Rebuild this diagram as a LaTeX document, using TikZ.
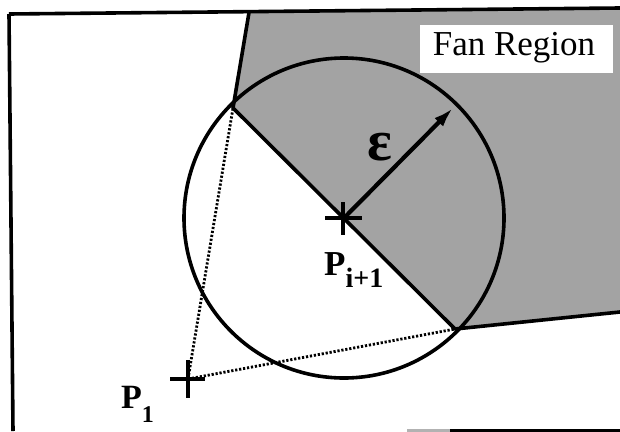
\documentclass[tikz,border=0pt]{standalone}
\usepackage{fontspec}
\setmainfont{Liberation Serif}
\usetikzlibrary{arrows.meta}
\begin{document}
\begin{tikzpicture}[x=1pt,y=-1pt,
  thickline/.style={line width=3.6pt, line join=round},
  dotline/.style={line width=2.8pt, dash pattern=on 2.2pt off 1.8pt},
  crossline/.style={line width=4pt},
  fanfill/.style={fill=black!36},
  labelbox/.style={fill=white, draw=none, minimum width=193pt, minimum height=48pt, inner sep=0pt},
  bigtext/.style={font=\fontsize{35}{35}\selectfont, inner sep=0pt}]
\useasboundingbox (0,0) rectangle (620,431);
% points
\coordinate (TL) at (9,14);
\coordinate (TR) at (620,8);
\coordinate (BL) at (13,431);
\coordinate (F1) at (249,12.5);
\coordinate (A) at (233,108);
\coordinate (B) at (455,329);
\coordinate (F4) at (620,312);
\coordinate (C) at (344,218);
\coordinate (E) at (453,108);
\coordinate (P1) at (188,379);
% fan region
\fill[fanfill] (F1) -- (A) -- (B) -- (F4) -- (TR) -- cycle;
\node[labelbox] (fanbox) at (516.5,49) {};
\node[bigtext, anchor=base] (fantext) at (514,55.5) {Fan Region};
% frame
\draw[thickline] (TL) -- (TR);
\draw[thickline] (TL) -- (BL);
\draw[line width=3pt, black!30] (407,430) -- (450,430);
\draw[line width=3pt] (450,430) -- (620,430);
% fan boundary
\draw[thickline] (F1) -- (A) -- (B) -- (F4);
% circle
\draw[thickline] (C) circle[radius=160pt];
% dotted lines
\draw[dotline] (P1) -- (A);
\draw[dotline] (P1) -- (B);
% radius arrow
\draw[line width=4.2pt, -{Latex[length=20pt,width=12pt]}] (C) -- (E);
\node[font=\fontsize{58}{58}\selectfont\bfseries, inner sep=0pt] (eps) at (380,147) {ε};
% crosses
\draw[crossline] (325,218) -- (362,218);
\draw[crossline] (343,202) -- (343,235);
\draw[crossline] (170,379) -- (205,379);
\draw[crossline] (188,360) -- (188,398);
% labels
\node[anchor=base west, inner sep=0pt, font=\fontsize{35}{35}\selectfont\bfseries] (pi) at (324,275) {P\raisebox{-12pt}{\fontsize{28}{28}\selectfont i+1}};
\node[anchor=base west, inner sep=0pt, font=\fontsize{34}{34}\selectfont\bfseries] (pone) at (121,408) {P\raisebox{-14pt}{\fontsize{24}{24}\selectfont 1}};
\end{tikzpicture}
\end{document}
